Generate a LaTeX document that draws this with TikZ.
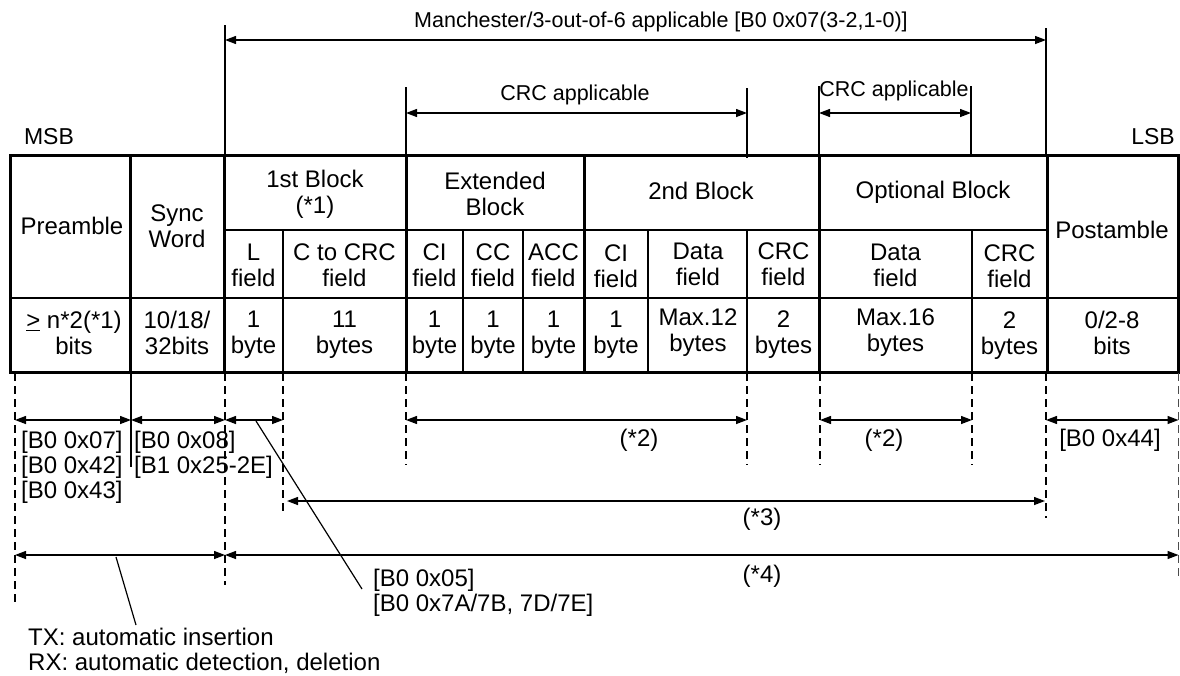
\documentclass[tikz,border=0pt]{standalone}
\usepackage{fontspec}
\setmainfont{Liberation Sans}
\usetikzlibrary{arrows.meta}
\begin{document}
\begin{tikzpicture}[x=1pt,y=-1pt,
  thickl/.style={line width=3pt},
  thinl/.style={line width=1.3pt},
  dashl/.style={line width=1.3pt, dash pattern=on 8pt off 5pt},
  dimarrow/.style={line width=1.3pt, {Triangle[length=11pt,width=8pt]}-{Triangle[length=11pt,width=8pt]}},
  leader/.style={line width=1.2pt},
  txt/.style={font=\fontsize{24}{26}\selectfont, inner sep=0pt, align=center},
  lbl/.style={font=\fontsize{24}{25}\selectfont, inner sep=0pt, align=left, anchor=west},
  toplbl/.style={font=\fontsize{21.5}{24}\selectfont, inner sep=0pt},
  sidelbl/.style={font=\fontsize{23}{24}\selectfont, inner sep=0pt}]
\useasboundingbox (0,0) rectangle (1180,675);

% ---------- table ----------
\draw[thinl] (224,230) -- (1047,230);
\draw[thinl] (10,298) -- (1178,298);
\foreach \x in {283,463,523,648,747,972}
  \draw[thinl] (\x,230) -- (\x,372);
\foreach \x in {130,224,406,584,819,1047}
  \draw[thickl] (\x,155) -- (\x,372);
\draw[thickl] (10,155) rectangle (1178,372);

% ---------- header texts ----------
\node[txt] (pre) at (72,226) {Preamble};
\node[txt] (sync) at (177,226) {Sync\\Word};
\node[txt] (b1) at (315,194) {1st Block\\(*1)};
\node[txt] (ext) at (495,194) {Extended\\Block};
\node[txt] (b2) at (701,191) {2nd Block};
\node[txt] (opt) at (933,192) {Optional Block};
\node[txt] (post) at (1112,230) {Postamble};

\node[txt] (lf) at (253.5,265) {L\\field};
\node[txt] (cf) at (344.5,265) {C to CRC\\field};
\node[txt] (cif) at (434.5,265) {CI\\field};
\node[txt] (ccf) at (493,265) {CC\\field};
\node[txt] (accf) at (553.5,265) {ACC\\field};
\node[txt] (ci2f) at (616,266) {CI\\field};
\node[txt] (d2f) at (698,264) {Data\\field};
\node[txt] (crc2f) at (783.5,264) {CRC\\field};
\node[txt] (dof) at (895.5,265) {Data\\field};
\node[txt] (crcof) at (1009.5,266) {CRC\\field};

\node[txt] (v1) at (74,333) {\underline{>} n*2(*1)\\bits};
\node[txt] (v2) at (177,333) {10/18/\\32bits};
\node[txt] (v3) at (253.5,335) {1\\byte};
\node[txt] (v4) at (344.5,335) {11\\bytes};
\node[txt] (v5) at (434.5,335) {1\\byte};
\node[txt] (v6) at (493,335) {1\\byte};
\node[txt] (v7) at (553.5,335) {1\\byte};
\node[txt] (v8) at (616,335) {1\\byte};
\node[txt] (v9) at (698,333) {Max.12\\bytes};
\node[txt] (v10) at (783.5,335) {2\\bytes};
\node[txt] (v11) at (895.5,333) {Max.16\\bytes};
\node[txt] (v12) at (1009.5,336) {2\\bytes};
\node[txt] (v13) at (1112,333) {0/2-8\\bits};

% ---------- top annotations ----------
\node[sidelbl] (msb) at (49,137) {MSB};
\node[sidelbl] (lsb) at (1153,137) {LSB};
\node[toplbl] (man) at (661,22) {Manchester/3-out-of-6 applicable [B0 0x07(3-2,1-0)]};
\node[toplbl] (crc1) at (575,95) {CRC applicable};
\node[toplbl] (crc2) at (894,91) {CRC applicable};

\coordinate (mL) at (225,25);  \coordinate (mLt) at (225,155);
\coordinate (mR) at (1046,28); \coordinate (mRt) at (1046,155);
\draw[thinl] (mL) -- (mLt);
\draw[thinl] (mR) -- (mRt);
\draw[dimarrow] (225,40) coordinate (ma) -- (1046,40) coordinate (mb);

\coordinate (c1L) at (406,87);  \coordinate (c1Lt) at (406,155);
\coordinate (c1R) at (747,88);  \coordinate (c1Rt) at (747,158);
\draw[thinl] (c1L) -- (c1Lt);
\draw[thinl] (c1R) -- (c1Rt);
\draw[dimarrow] (406,113) coordinate (c1a) -- (747,113) coordinate (c1b);

\coordinate (c2L) at (819,86);  \coordinate (c2Lt) at (819,155);
\coordinate (c2R) at (971,86);  \coordinate (c2Rt) at (971,155);
\draw[thinl] (c2L) -- (c2Lt);
\draw[thinl] (c2R) -- (c2Rt);
\draw[dimarrow] (819,113) coordinate (c2a) -- (971,113) coordinate (c2b);

% ---------- extension lines below ----------
\draw[dashl] (15,373) -- (15,602);
\draw[thinl] (131,372) -- (131,467);
\draw[dashl] (225,373) -- (225,585);
\draw[dashl] (283,373) -- (283,513);
\draw[dashl] (406,373) -- (406,465);
\draw[dashl] (747,373) -- (747,465);
\draw[dashl] (820,373) -- (820,465);
\draw[dashl] (972,373) -- (972,465);
\draw[dashl] (1046,373) -- (1046,518);
\draw[dashl, black!70] (1178.3,373) -- (1178.3,577);

% ---------- dimension arrows ----------
\coordinate (a1) at (15,420);  \coordinate (a2) at (131,420);
\coordinate (a3) at (225,420); \coordinate (a4) at (283,420);
\coordinate (a5) at (406,420); \coordinate (a6) at (747,420);
\coordinate (a7) at (820,420); \coordinate (a8) at (972,420);
\coordinate (a9) at (1046,420); \coordinate (a10) at (1178.5,420);
\draw[dimarrow] (a1) -- (a2);
\draw[dimarrow] (a2) -- (a3);
\draw[dimarrow] (a3) -- (a4);
\draw[dimarrow] (a5) -- (a6);
\draw[dimarrow] (a7) -- (a8);
\draw[dimarrow] (a9) -- (a10);

\coordinate (b1s) at (287,501); \coordinate (b1e) at (1045,501);
\draw[dimarrow] (b1s) -- (b1e);

\coordinate (d1) at (15,555); \coordinate (d2) at (225,555); \coordinate (d3) at (1178.5,555);
\draw[dimarrow] (d1) -- (d2);
\draw[dimarrow] (d2) -- (d3);

% ---------- labels below ----------
\node[lbl] (l1) at (21,467) {[B0 0x07]\\{}[B0 0x42]\\{}[B0 0x43]};
\node[lbl] (l2) at (134,454.5) {[B0 0x08]\\{}[B1 0x25-2E]};
\node[txt] (s2a) at (639,440) {(*2)};
\node[txt] (s2b) at (884,440) {(*2)};
\node[txt] (b044) at (1110,440) {[B0 0x44]};
\node[txt] (s3) at (762,519) {(*3)};
\node[txt] (s4) at (762,576) {(*4)};
\node[lbl] (l5) at (373,593) {[B0 0x05]\\{}[B0 0x7A/7B, 7D/7E]};
\node[lbl] (l6) at (28,650.5) {TX: automatic insertion\\RX: automatic detection, deletion};

\coordinate (k1a) at (256,421); \coordinate (k1b) at (362,589);
\draw[leader] (k1a) -- (k1b);
\coordinate (k2a) at (116,557); \coordinate (k2b) at (136,625);
\draw[leader] (k2a) -- (k2b);
\end{tikzpicture}
\end{document}
